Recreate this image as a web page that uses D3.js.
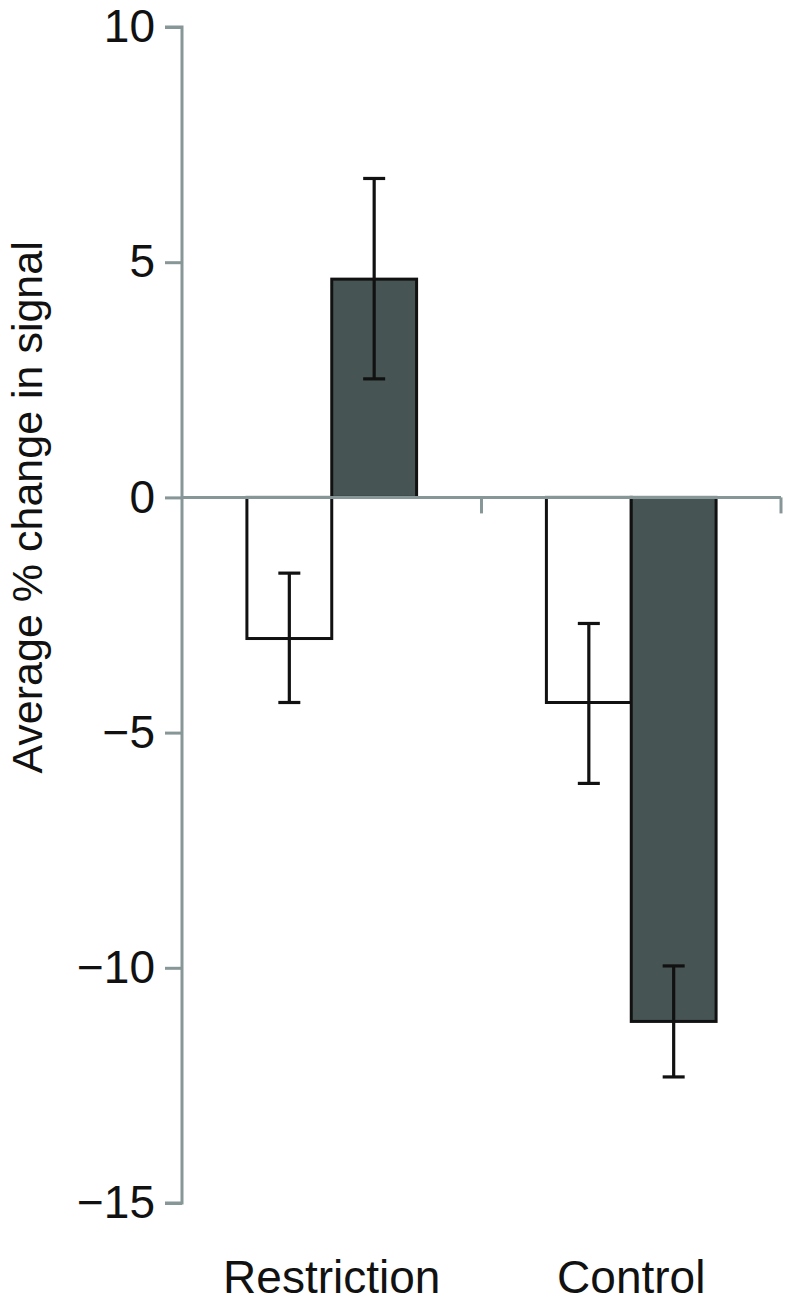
<!DOCTYPE html>
<html>
<head>
<meta charset="utf-8">
<script src="https://cdn.jsdelivr.net/npm/d3@7"></script>
<style>
  body { margin: 0; background: #fff; }
  text { font-family: "Liberation Sans", Arial, sans-serif; fill: #111; }
</style>
</head>
<body>
<div id="chart"></div>
<script>
const width = 786;
const height = 1308;

// data
const categories = ["Restriction", "Control"];
const series = ["white", "dark"];
const means = [[-3.0, 4.64], [-4.36, -11.14]];
const errTop = [[-1.61, 6.78], [-2.68, -9.96]];
const errBottom = [[-4.36, 2.52], [-6.08, -12.32]];
const yTicks = [-15, -10, -5, 0, 5, 10];
const fills = { white: "#ffffff", dark: "#475454" };

const axisColor = "#879696";

const svg = d3.select("#chart").append("svg").attr("width", width).attr("height", height);

const y = d3.scaleLinear().domain([-15, 10]).range([1203, 27]);
const x0 = d3.scaleBand().domain(categories).range([182, 781]);
const x1 = d3.scaleBand().domain(series).range([0, x0.bandwidth()]).paddingOuter(0.765);

const rows = [];
categories.forEach((c, i) => {
    series.forEach((s, j) => {
        rows.push({ cat: c, ser: s, v: means[i][j], hi: errTop[i][j], lo: errBottom[i][j] });
    });
});

// bars
svg.append("g").selectAll("rect")
    .data(rows)
    .enter()
    .append("rect")
    .attr("x", d => x0(d.cat) + x1(d.ser))
    .attr("width", x1.bandwidth())
    .attr("y", d => y(Math.max(0, d.v)))
    .attr("height", d => Math.abs(y(d.v) - y(0)))
    .attr("fill", d => fills[d.ser])
    .attr("stroke", "#111")
    .attr("stroke-width", 3);

// error bars
const eb = svg.append("g").selectAll("g")
    .data(rows)
    .enter()
    .append("g")
    .attr("transform", d => `translate(${x0(d.cat) + x1(d.ser) + x1.bandwidth() / 2},0)`)
    .attr("stroke", "#111")
    .attr("stroke-width", 3.2);
eb.append("line").attr("y1", d => y(d.hi)).attr("y2", d => y(d.lo));
eb.append("line").attr("x1", -11).attr("x2", 11).attr("y1", d => y(d.hi)).attr("y2", d => y(d.hi));
eb.append("line").attr("x1", -11).attr("x2", 11).attr("y1", d => y(d.lo)).attr("y2", d => y(d.lo));

// y axis
const yAxis = svg.append("g")
    .attr("transform", "translate(182,0)")
    .call(d3.axisLeft(y).tickValues(yTicks).tickSize(17).tickPadding(10).tickFormat(d3.format("d")));
yAxis.select(".domain").attr("stroke", axisColor).attr("stroke-width", 3)
    .attr("d", `M-17,${y(10)}H0V${y(-15)}H-17`);
yAxis.selectAll(".tick line").attr("stroke", axisColor).attr("stroke-width", 3);
yAxis.selectAll(".tick text").attr("font-size", 46).attr("fill", "#111")
    .attr("font-family", "Liberation Sans, Arial, sans-serif");

// x axis at zero
const xAxis = svg.append("g").attr("transform", `translate(0,${y(0)})`);
xAxis.append("line")
    .attr("x1", x0.range()[0]).attr("x2", x0.range()[1])
    .attr("stroke", axisColor).attr("stroke-width", 3);
xAxis.selectAll(".sep")
    .data(categories)
    .enter()
    .append("line")
    .attr("x1", d => x0(d) + x0.bandwidth())
    .attr("x2", d => x0(d) + x0.bandwidth())
    .attr("y1", 0).attr("y2", 16)
    .attr("stroke", axisColor).attr("stroke-width", 3);

// category labels
svg.append("g").selectAll("text")
    .data(categories)
    .enter()
    .append("text")
    .attr("x", d => x0(d) + x0.bandwidth() / 2)
    .attr("y", 1293)
    .attr("text-anchor", "middle")
    .attr("font-size", 46)
    .text(d => d);

// y label
svg.append("text")
    .attr("transform", `translate(42,${y(0) + 10}) rotate(-90)`)
    .attr("text-anchor", "middle")
    .attr("font-size", 43)
    .text("Average % change in signal");
</script>
</body>
</html>
